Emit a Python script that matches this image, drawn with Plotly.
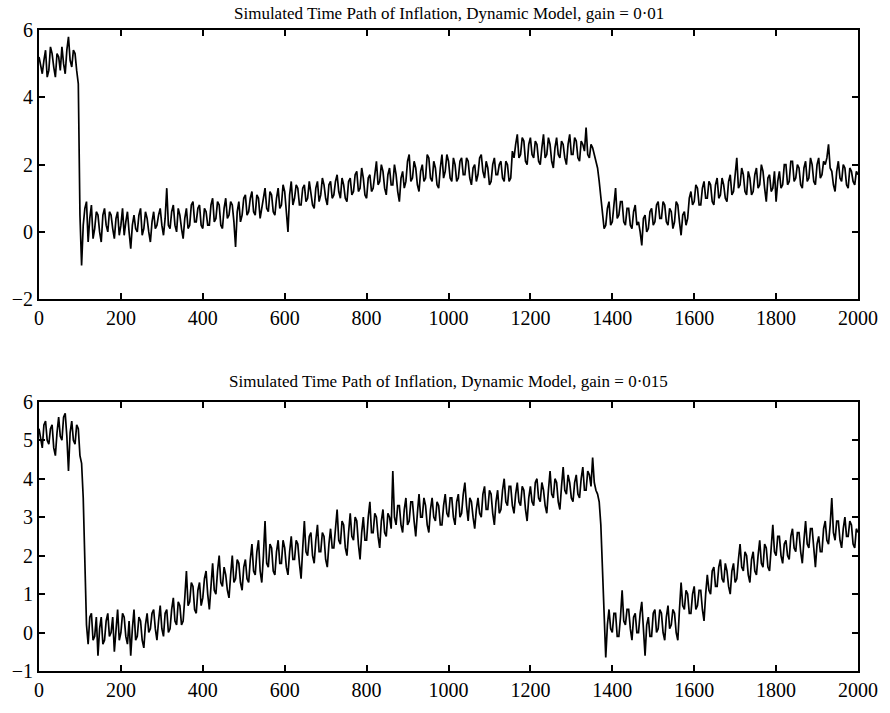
import plotly.graph_objects as go

# time index (every 4th period of the 2000-period simulation)
periods = list(range(0, 2001, 4))

# inflation, gain = 0.01
inflation_gain_001 = [
    5.2, 4.9, 4.7, 5.1, 5.4, 4.6, 4.8, 5.5, 5.3, 4.9, 4.6, 5.3, 5.2, 4.8, 5.5, 5.0, 4.7, 5.4, 5.8, 5.1,
    4.9, 5.4, 5.3, 4.8, 4.4, 0.5, -1.0, 0.2, 0.7, 0.9, -0.3, 0.4, 0.8, -0.2, 0.1, 0.6, 0.5, 0.0, -0.3, 0.5,
    0.7, 0.2, 0.0, 0.6, 0.5, 0.1, -0.2, 0.4, 0.6, -0.1, 0.2, 0.7, -0.1, 0.3, 0.6, 0.0, -0.5, 0.2, 0.5, 0.1,
    0.0, 0.5, 0.7, -0.1, 0.1, 0.6, 0.4, 0.0, -0.3, 0.3, 0.6, 0.1, 0.2, 0.5, 0.7, 0.2, -0.1, 0.4, 1.3, 0.2,
    0.1, 0.6, 0.8, 0.2, 0.0, 0.7, 0.5, 0.1, -0.2, 0.4, 0.7, 0.1, 0.2, 0.8, 0.9, 0.3, 0.3, 0.7, 0.8, 0.2,
    0.1, 0.7, 0.6, 0.2, 0.2, 0.8, 1.0, 0.3, 0.4, 0.9, 0.8, 0.2, 0.1, 0.7, 1.0, 0.4, 0.5, 0.9, 0.8, 0.3,
    -0.45, 0.6, 0.9, 0.3, 0.5, 1.0, 1.1, 0.5, 0.6, 1.0, 1.2, 0.6, 0.5, 1.1, 1.0, 0.4, 0.7, 1.1, 1.3, 0.7,
    0.6, 1.2, 1.1, 0.6, 0.5, 1.0, 1.3, 0.7, 0.8, 1.4, 1.2, 0.6, 0.0, 1.1, 1.5, 0.8, 1.0, 1.4, 1.3, 0.8,
    0.8, 1.3, 1.4, 0.9, 1.0, 1.5, 1.2, 0.8, 0.7, 1.3, 1.5, 0.9, 1.1, 1.6, 1.4, 1.0, 0.8, 1.4, 1.5, 1.0,
    1.1, 1.5, 1.7, 1.2, 1.0, 1.6, 1.4, 1.0, 0.9, 1.5, 1.6, 1.1, 1.2, 1.7, 1.8, 1.2, 1.3, 1.9, 1.6, 1.1,
    1.0, 1.6, 1.7, 1.2, 1.3, 1.8, 2.1, 1.4, 1.5, 2.0, 1.8, 1.3, 1.1, 1.7, 1.9, 1.4, 1.4, 2.0, 1.7, 1.2,
    0.9, 1.6, 1.8, 1.3, 1.5, 2.1, 2.3, 1.5, 1.6, 2.1, 1.9, 1.4, 1.2, 1.8, 2.0, 1.5, 1.6, 2.3, 2.2, 1.6,
    1.5, 2.1, 1.9, 1.4, 1.3, 1.9, 2.3, 1.6, 1.8, 2.3, 2.1, 1.6, 1.5, 2.2, 2.0, 1.5, 1.6, 2.1, 2.2, 1.7,
    1.7, 2.2, 2.1, 1.6, 1.4, 1.9, 2.0, 1.5, 1.7, 2.2, 2.3, 1.8, 1.6, 2.1, 1.9, 1.4, 1.5, 2.0, 2.2, 1.7,
    1.7, 2.0, 2.1, 1.6, 1.5, 2.1, 2.0, 1.5, 1.6, 2.4, 2.2, 2.6, 2.9, 2.2, 2.3, 2.8, 2.7, 2.1, 2.0, 2.6,
    2.8, 2.3, 2.2, 2.7, 2.6, 2.1, 2.0, 2.5, 2.9, 2.2, 2.3, 2.8, 2.6, 2.1, 1.9, 2.5, 2.8, 2.3, 2.2, 2.7,
    2.6, 2.2, 2.0, 2.6, 2.9, 2.3, 2.3, 2.8, 2.7, 2.2, 2.1, 2.7, 2.6, 2.4, 3.1, 2.3, 2.2, 2.6, 2.5, 2.3,
    2.1, 1.9, 1.5, 1.0, 0.6, 0.1, 0.2, 0.7, 0.9, 0.2, 0.3, 0.8, 1.3, 0.4, 0.5, 0.9, 0.9, 0.3, 0.2, 0.7,
    0.7, 0.2, 0.1, 0.6, 0.8, 0.2, 0.3, 0.0, -0.4, 0.4, 0.5, 0.0, 0.1, 0.6, 0.7, 0.2, 0.3, 0.8, 0.9, 0.4,
    0.4, 0.9, 0.8, 0.3, 0.2, 0.7, 0.6, 0.1, 0.3, 0.9, 0.8, 0.3, -0.1, 0.5, 0.6, 0.2, 0.4, 1.0, 1.2, 0.8,
    0.9, 1.4, 1.3, 0.8, 0.8, 1.3, 1.5, 1.0, 1.0, 1.5, 1.4, 0.9, 0.8, 1.4, 1.6, 1.0, 1.1, 1.6, 1.4, 1.0,
    0.9, 1.5, 1.7, 1.1, 1.2, 1.7, 2.2, 1.3, 1.4, 1.9, 1.7, 1.2, 1.1, 1.8, 1.6, 1.1, 1.2, 1.7, 1.9, 1.3,
    1.4, 2.0, 1.8, 1.3, 0.9, 1.6, 1.7, 1.2, 1.3, 1.8, 0.9, 1.5, 1.8, 1.3, 1.4, 2.0, 2.0, 1.4, 1.5, 2.1,
    2.1, 1.5, 1.6, 2.0, 1.9, 1.4, 1.3, 1.9, 2.1, 1.5, 1.6, 2.2, 2.0, 1.5, 1.4, 2.0, 2.2, 1.6, 1.7, 2.1,
    2.0, 2.2, 2.6, 1.9, 1.8, 1.4, 1.2, 1.8, 2.1, 1.6, 1.5, 2.0, 1.9, 1.4, 1.3, 1.9, 1.8, 1.5, 1.4, 1.8,
    1.7,
]

# inflation, gain = 0.015
inflation_gain_0015 = [
    5.3, 5.0, 4.8, 5.4, 5.5, 5.0, 4.9, 5.3, 5.4, 4.8, 4.6, 5.2, 5.6, 5.1, 5.0, 5.6, 5.7, 5.1, 4.2, 5.2,
    5.5, 5.0, 4.9, 5.4, 5.3, 4.6, 4.4, 3.5, 1.5, 0.2, -0.3, 0.4, 0.5, -0.2, -0.1, 0.4, -0.6, 0.1, 0.4, -0.3,
    -0.2, 0.3, 0.5, -0.1, 0.0, 0.4, -0.5, 0.2, 0.6, -0.2, 0.0, 0.5, 0.4, -0.1, -0.3, 0.3, -0.6, 0.1, 0.6, -0.2,
    -0.1, 0.4, 0.3, -0.2, -0.4, 0.2, 0.5, 0.0, 0.1, 0.5, 0.6, 0.1, -0.2, 0.3, 0.7, 0.1, -0.1, 0.5, 0.6, 0.0,
    0.1, 0.6, 0.9, 0.3, 0.2, 0.8, 0.7, 0.2, 0.3, 0.9, 1.6, 0.7, 0.8, 1.3, 1.2, 0.6, 0.5, 1.1, 1.3, 0.7,
    0.9, 1.4, 1.6, 1.0, 0.6, 1.2, 1.8, 1.1, 1.0, 1.6, 2.0, 1.3, 1.2, 1.7, 1.5, 1.1, 0.9, 1.5, 2.0, 1.3,
    1.4, 1.9, 1.8, 1.3, 1.1, 1.7, 1.9, 1.4, 1.3, 1.9, 2.3, 1.6, 1.5, 2.1, 2.4, 1.6, 1.3, 2.0, 2.9, 1.8,
    1.7, 2.3, 2.2, 1.6, 1.5, 2.1, 2.4, 1.8, 1.8, 2.4, 2.2, 1.7, 1.5, 2.1, 2.5, 1.9, 1.9, 2.4, 2.3, 1.8,
    1.4, 2.2, 2.9, 2.1, 2.0, 2.5, 2.6, 2.0, 1.8, 2.4, 2.8, 2.1, 2.1, 2.6, 2.5, 1.9, 1.7, 2.3, 2.7, 2.2,
    2.2, 2.7, 3.2, 2.4, 2.3, 2.9, 2.8, 2.2, 2.0, 2.6, 3.1, 2.5, 2.4, 3.0, 2.9, 2.3, 1.9, 2.6, 3.0, 2.4,
    2.4, 3.0, 3.4, 2.6, 2.6, 3.1, 3.0, 2.5, 2.2, 2.9, 3.2, 2.6, 2.5, 3.1, 3.0, 2.7, 4.2, 3.0, 2.8, 3.3,
    3.3, 2.8, 2.6, 3.2, 3.5, 2.8, 2.9, 3.4, 3.4, 2.9, 2.5, 3.1, 3.6, 3.0, 3.0, 3.5, 3.3, 2.8, 2.6, 3.2,
    3.5, 3.0, 2.9, 3.4, 3.3, 2.8, 2.8, 3.3, 3.6, 3.1, 3.0, 3.5, 3.5, 3.0, 2.8, 3.4, 3.6, 3.0, 3.1, 3.6,
    3.9, 3.3, 2.9, 3.5, 3.4, 3.0, 2.7, 3.2, 3.5, 3.1, 3.0, 3.6, 3.8, 3.2, 3.2, 3.7, 3.6, 3.1, 2.8, 3.4,
    3.7, 3.1, 3.2, 3.7, 4.0, 3.4, 3.3, 3.8, 3.8, 3.3, 3.1, 3.6, 3.9, 3.4, 3.3, 3.8, 3.7, 3.2, 2.9, 3.5,
    3.8, 3.4, 3.3, 3.9, 4.0, 3.5, 3.4, 3.9, 3.7, 3.3, 3.1, 3.7, 4.2, 3.6, 3.5, 4.0, 3.9, 3.4, 3.2, 3.8,
    4.3, 3.7, 3.6, 4.1, 3.9, 3.5, 3.4, 3.9, 4.1, 3.6, 3.5, 4.0, 4.3, 3.7, 3.7, 4.2, 4.1, 3.8, 4.55, 3.9,
    3.7, 3.6, 3.4, 2.8, 1.5, 0.3, -0.65, 0.2, 0.6, 0.1, 0.0, 0.5, 0.5, -0.1, -0.1, 0.4, 1.1, 0.3, 0.2, 0.6,
    0.6, 0.1, -0.2, 0.4, 0.5, 0.0, 0.0, 0.5, 0.8, 0.1, -0.6, 0.2, 0.4, -0.1, -0.1, 0.5, 0.6, 0.0, 0.1, 0.6,
    0.5, 0.0, -0.2, 0.4, 0.7, 0.1, 0.2, 0.6, 0.5, 0.0, -0.2, 0.6, 1.3, 0.7, 0.6, 1.1, 1.0, 0.5, 0.5, 1.0,
    1.2, 0.6, 0.7, 1.1, 1.1, 0.6, 0.3, 1.0, 1.5, 1.1, 1.0, 1.6, 1.7, 1.2, 1.2, 1.7, 1.9, 1.4, 1.3, 1.8,
    1.6, 1.2, 1.0, 1.6, 1.8, 1.3, 1.4, 1.9, 2.3, 1.7, 1.6, 2.1, 2.0, 1.5, 1.3, 1.9, 2.1, 1.6, 1.5, 2.0,
    2.4, 1.8, 1.7, 2.3, 2.2, 1.7, 1.6, 2.2, 2.8, 2.1, 2.0, 2.5, 2.5, 2.0, 1.8, 2.3, 2.4, 2.0, 1.9, 2.5,
    2.7, 2.2, 2.1, 2.6, 2.6, 2.1, 1.8, 2.4, 2.9, 2.3, 2.2, 2.7, 2.7, 2.2, 1.7, 2.3, 2.5, 2.1, 2.1, 2.7,
    2.9, 2.4, 2.3, 2.8, 3.5, 2.6, 2.4, 2.9, 2.9, 2.4, 2.2, 2.7, 3.0, 2.5, 2.5, 2.9, 2.8, 2.3, 2.2, 2.7,
    2.6,
]

titles = [
    "Simulated Time Path of Inflation, Dynamic Model, gain = 0·01",
    "Simulated Time Path of Inflation, Dynamic Model, gain = 0·015",
]
x_ticks = list(range(0, 2001, 200))
y_ticks_top = [-2, 0, 2, 4, 6]
y_ticks_bottom = [-1, 0, 1, 2, 3, 4, 5, 6]

FONT = "Liberation Serif, Times New Roman, serif"

fig = go.Figure()
fig.add_trace(go.Scatter(x=periods, y=inflation_gain_001, mode="lines",
                         line=dict(color="black", width=1.7),
                         xaxis="x", yaxis="y", showlegend=False,
                         hoverinfo="skip"))
fig.add_trace(go.Scatter(x=periods, y=inflation_gain_0015, mode="lines",
                         line=dict(color="black", width=1.7),
                         xaxis="x2", yaxis="y2", showlegend=False,
                         hoverinfo="skip"))

common_x = dict(range=[0, 2000], tickvals=x_ticks, ticks="inside", ticklen=6,
                tickwidth=2, tickcolor="black", showline=True, linecolor="black",
                linewidth=2, mirror="ticks", showgrid=False, zeroline=False,
                ticklabeloverflow="allow",
                tickfont=dict(family=FONT, size=20, color="black"))
common_y = dict(ticks="inside", ticklen=6, tickwidth=2, tickcolor="black",
                showline=True, linecolor="black", linewidth=2, mirror="ticks",
                showgrid=False, zeroline=False,
                tickfont=dict(family=FONT, size=20, color="black"))

fig.update_layout(
    width=890, height=713,
    margin=dict(l=38, r=26, t=30, b=33),
    paper_bgcolor="white", plot_bgcolor="white",
    font=dict(family=FONT, color="black"),
    xaxis=dict(domain=[0, 1], anchor="y", **common_x),
    yaxis=dict(domain=[0.58, 1.0], anchor="x", range=[-2, 6],
               tickvals=y_ticks_top, **common_y),
    xaxis2=dict(domain=[0, 1], anchor="y2", **common_x),
    yaxis2=dict(domain=[0.0, 0.42], anchor="x2", range=[-1, 6],
                tickvals=y_ticks_bottom, **common_y),
    annotations=[
        dict(text=titles[0], xref="paper", yref="paper", x=0.5, y=1.0,
             yshift=5, xanchor="center", yanchor="bottom", showarrow=False,
             font=dict(family=FONT, size=17, color="black")),
        dict(text=titles[1], xref="paper", yref="paper", x=0.5, y=0.42,
             yshift=9, xanchor="center", yanchor="bottom", showarrow=False,
             font=dict(family=FONT, size=17, color="black")),
    ],
)

fig.write_html("out.html",
               config={"displayModeBar": False},
               post_script="document.body.style.margin='0';")
